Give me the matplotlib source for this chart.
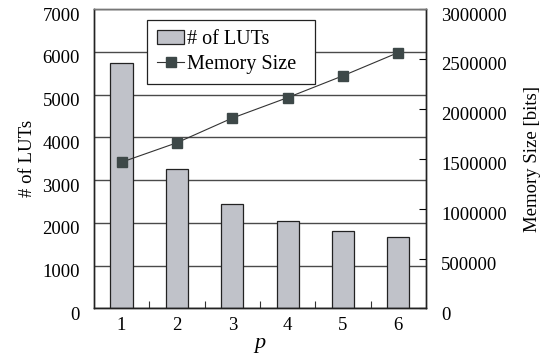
import matplotlib
matplotlib.use('Agg')
import matplotlib.pyplot as plt
from matplotlib.ticker import StrMethodFormatter
from matplotlib.transforms import ScaledTranslation

p_values = [1, 2, 3, 4, 5, 6]
luts = [5735, 3250, 2450, 2046, 1801, 1663]
memory_bits = [1466000, 1661000, 1908000, 2113000, 2332000, 2565000]

plt.rcParams['font.family'] = 'Liberation Serif'
plt.rcParams['font.size'] = 13.5

fig, ax1 = plt.subplots(figsize=(5.49, 3.64), dpi=100)
fig.subplots_adjust(left=0.171, right=0.776, top=0.975, bottom=0.1525)

ax1.set_axisbelow(True)
ax1.yaxis.grid(True, color='#4a4a4a', linewidth=1.0)
bars = ax1.bar(p_values, luts, width=0.4, color='#c0c2c9', edgecolor='#222222',
               linewidth=0.9, label='# of LUTs', zorder=2)
ax1.set_xlim(0.5, 6.5)
ax1.set_ylim(0, 7000)
ax1.set_yticks(range(0, 7001, 1000))
ax1.set_xticks(p_values)
ax1.set_xticks([1.5, 2.5, 3.5, 4.5, 5.5], minor=True)
ax1.tick_params(axis='x', which='major', length=0, pad=6)
ax1.tick_params(axis='x', which='minor', direction='in', length=5, width=0.8, color='#333333')
ax1.tick_params(axis='y', direction='in', length=0, pad=10)
ax1.set_xlabel('p', style='italic', fontsize=16, labelpad=0)
ax1.set_ylabel('# of LUTs', labelpad=5)

ax2 = ax1.twinx()
line, = ax2.plot(p_values, memory_bits, color='#333333', linewidth=0.8, marker='s',
                 markersize=7, markerfacecolor='#3d4848', markeredgecolor='#3d4848',
                 label='Memory Size')
ax2.set_ylim(0, 3000000)
ax2.set_yticks(range(0, 3000001, 500000))
ax2.yaxis.set_major_formatter(StrMethodFormatter('{x:.0f}'))
ax2.tick_params(axis='y', direction='in', length=5, width=0.8, pad=11)
ax2.set_ylabel('Memory Size [bits]', labelpad=12)

for ax in (ax1, ax2):
    for s in ax.spines.values():
        s.set_color('#222222')
        s.set_linewidth(1.0)
    ax.spines['top'].set_color('#777777')

# tick labels in the original sit a few pixels below their gridlines
shift = ScaledTranslation(0, -0.05, fig.dpi_scale_trans)
for lab in ax1.get_yticklabels() + ax2.get_yticklabels():
    lab.set_transform(lab.get_transform() + shift)

leg_w = 0.306
leg_h = 0.162
leg = ax2.legend([bars, line], ['# of LUTs', 'Memory Size'], loc='upper left',
                 bbox_to_anchor=(0.268, 0.945 - leg_h, leg_w, leg_h),
                 bbox_transform=fig.transFigure, mode='expand',
                 borderaxespad=0, fancybox=False, framealpha=1, edgecolor='#222222',
                 handlelength=1.35, handletextpad=0.15, borderpad=0.5, labelspacing=0.3,
                 fontsize=14.5)
leg.get_frame().set_linewidth(0.9)

fig.savefig('out.png', dpi=100)
